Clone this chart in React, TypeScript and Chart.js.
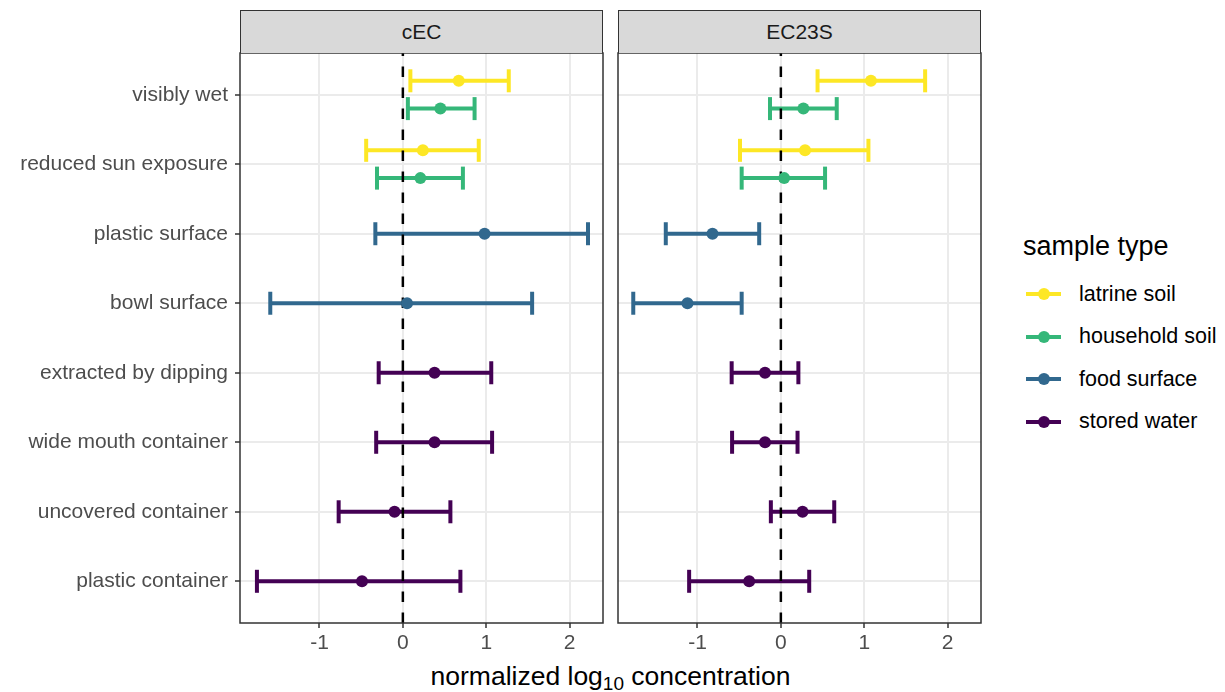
import React, { useEffect, useRef } from 'react';
import { Chart, registerables } from 'chart.js';

Chart.register(...registerables);

// ---------- data ----------
// categories from bottom (1) to top (8)
const categories = [
  'plastic container',
  'uncovered container',
  'wide mouth container',
  'extracted by dipping',
  'bowl surface',
  'plastic surface',
  'reduced sun exposure',
  'visibly wet',
];

const soilCats = ['visibly wet', 'reduced sun exposure'];
const foodCats = ['plastic surface', 'bowl surface'];
const waterCats = ['extracted by dipping', 'wide mouth container', 'uncovered container', 'plastic container'];

const seriesNames = ['latrine soil', 'household soil', 'food surface', 'stored water'];
const seriesColors = ['#FDE725', '#35B779', '#31688E', '#440154'];

const xTicks = [-1, 0, 1, 2];

// cEC panel
const cecLatrineEst = [0.67, 0.24];
const cecLatrineLo = [0.09, -0.44];
const cecLatrineHi = [1.27, 0.91];
const cecHouseholdEst = [0.45, 0.21];
const cecHouseholdLo = [0.06, -0.31];
const cecHouseholdHi = [0.86, 0.72];
const cecFoodEst = [0.98, 0.05];
const cecFoodLo = [-0.33, -1.59];
const cecFoodHi = [2.22, 1.55];
const cecWaterEst = [0.38, 0.38, -0.1, -0.49];
const cecWaterLo = [-0.29, -0.32, -0.77, -1.75];
const cecWaterHi = [1.06, 1.07, 0.57, 0.69];

// EC23S panel
const ecLatrineEst = [1.08, 0.29];
const ecLatrineLo = [0.44, -0.49];
const ecLatrineHi = [1.73, 1.05];
const ecHouseholdEst = [0.27, 0.04];
const ecHouseholdLo = [-0.13, -0.47];
const ecHouseholdHi = [0.67, 0.53];
const ecFoodEst = [-0.82, -1.12];
const ecFoodLo = [-1.38, -1.77];
const ecFoodHi = [-0.26, -0.47];
const ecWaterEst = [-0.19, -0.19, 0.26, -0.38];
const ecWaterLo = [-0.59, -0.585, -0.12, -1.1];
const ecWaterHi = [0.21, 0.2, 0.64, 0.34];

const panelTitles = ['cEC', 'EC23S'];

// ---------- helpers ----------
const FONT = "'Liberation Sans', Arial, Helvetica, sans-serif";
const X_MIN = -1.953;
const X_MAX = 2.4;
const Y_MIN = 0.4;
const Y_MAX = 8.6;
const DODGE = 0.2;

type Series = { cats: string[]; est: number[]; lo: number[]; hi: number[]; color: string; dodge: number };

const catY = (c: string) => categories.indexOf(c) + 1;

function buildDatasets(series: Series[]) {
  const ds: any[] = [];
  series.forEach((s) => {
    s.cats.forEach((c, i) => {
      const y = catY(c) + s.dodge;
      ds.push({
        data: [
          { x: s.lo[i], y },
          { x: s.hi[i], y },
        ],
        showLine: true,
        borderColor: s.color,
        borderWidth: 4,
        pointStyle: 'line',
        pointRadius: 11.5,
        pointHoverRadius: 11.5,
        pointBorderWidth: 4,
        pointBorderColor: s.color,
        pointRotation: 90,
        order: 3,
      });
    });
  });
  ds.push({
    data: [
      { x: 0, y: Y_MIN },
      { x: 0, y: Y_MAX },
    ],
    showLine: true,
    borderColor: '#000000',
    borderWidth: 2.5,
    borderDash: [10.5, 10.5],
    pointRadius: 0,
    order: 2,
  });
  series.forEach((s) => {
    ds.push({
      data: s.cats.map((c, i) => ({ x: s.est[i], y: catY(c) + s.dodge })),
      showLine: false,
      pointRadius: 6,
      pointBackgroundColor: s.color,
      pointBorderColor: s.color,
      pointBorderWidth: 0,
      order: 1,
    });
  });
  return ds;
}

const panelBox = {
  id: 'panelBox',
  afterDraw(chart: any) {
    const { ctx, chartArea } = chart;
    ctx.save();
    ctx.strokeStyle = '#333333';
    ctx.lineWidth = 1.5;
    ctx.strokeRect(chartArea.left, chartArea.top, chartArea.right - chartArea.left, chartArea.bottom - chartArea.top);
    ctx.restore();
  },
};

function makeConfig(series: Series[], showYLabels: boolean, padLeft: number, padRight: number) {
  return {
    type: 'scatter',
    data: { datasets: buildDatasets(series) },
    plugins: [panelBox],
    options: {
      responsive: false,
      animation: false,
      events: [],
      layout: { autoPadding: false, padding: { top: 53, left: padLeft, right: padRight, bottom: 0 } },
      plugins: { legend: { display: false }, tooltip: { enabled: false } },
      scales: {
        x: {
          type: 'linear',
          min: X_MIN,
          max: X_MAX,
          afterFit: (scale: any) => {
            scale.height = 37;
            scale.paddingLeft = 0;
            scale.paddingRight = 0;
          },
          afterBuildTicks: (scale: any) => {
            scale.ticks = xTicks.map((v) => ({ value: v }));
          },
          border: { display: false },
          grid: {
            color: '#EBEBEB',
            lineWidth: 2,
            drawTicks: true,
            tickLength: 5,
            tickColor: '#333333',
            tickWidth: 1.5,
          },
          ticks: {
            includeBounds: false,
            color: '#4D4D4D',
            font: { family: FONT, size: 21 },
            padding: 3,
            maxRotation: 0,
            callback: (v: any) => String(v),
          },
        },
        y: {
          type: 'linear',
          min: Y_MIN,
          max: Y_MAX,
          afterFit: (scale: any) => {
            scale.width = showYLabels ? 240 : 0;
            scale.paddingTop = 0;
            scale.paddingBottom = 0;
          },
          afterBuildTicks: (scale: any) => {
            scale.ticks = categories.map((_, i) => ({ value: i + 1 }));
          },
          border: { display: false },
          grid: {
            color: '#EBEBEB',
            lineWidth: 2,
            drawTicks: showYLabels,
            tickLength: 5,
            tickColor: '#333333',
            tickWidth: 1.5,
          },
          ticks: {
            display: showYLabels,
            includeBounds: false,
            color: '#4D4D4D',
            font: { family: FONT, size: 21 },
            padding: 7,
            callback: (v: any) => categories[Math.round(v) - 1] ?? '',
          },
        },
      },
    },
  };
}

const cecSeries: Series[] = [
  { cats: soilCats, est: cecLatrineEst, lo: cecLatrineLo, hi: cecLatrineHi, color: seriesColors[0], dodge: DODGE },
  { cats: soilCats, est: cecHouseholdEst, lo: cecHouseholdLo, hi: cecHouseholdHi, color: seriesColors[1], dodge: -DODGE },
  { cats: foodCats, est: cecFoodEst, lo: cecFoodLo, hi: cecFoodHi, color: seriesColors[2], dodge: 0 },
  { cats: waterCats, est: cecWaterEst, lo: cecWaterLo, hi: cecWaterHi, color: seriesColors[3], dodge: 0 },
];

const ecSeries: Series[] = [
  { cats: soilCats, est: ecLatrineEst, lo: ecLatrineLo, hi: ecLatrineHi, color: seriesColors[0], dodge: DODGE },
  { cats: soilCats, est: ecHouseholdEst, lo: ecHouseholdLo, hi: ecHouseholdHi, color: seriesColors[1], dodge: -DODGE },
  { cats: foodCats, est: ecFoodEst, lo: ecFoodLo, hi: ecFoodHi, color: seriesColors[2], dodge: 0 },
  { cats: waterCats, est: ecWaterEst, lo: ecWaterLo, hi: ecWaterHi, color: seriesColors[3], dodge: 0 },
];

function Panel({ series, showYLabels, left, width, padLeft, padRight }: any) {
  const ref = useRef<HTMLCanvasElement>(null);
  useEffect(() => {
    if (!ref.current) return;
    const chart = new Chart(ref.current, makeConfig(series, showYLabels, padLeft, padRight) as any);
    return () => chart.destroy();
  }, []);
  return (
    <canvas
      ref={ref}
      width={width}
      height={660}
      style={{ position: 'absolute', left, top: 0, width, height: 660 }}
    />
  );
}

function Strip({ left, width, text }: any) {
  return (
    <div
      style={{
        position: 'absolute',
        left,
        top: 10,
        width,
        height: 43,
        boxSizing: 'border-box',
        background: '#D9D9D9',
        border: '1.5px solid #333333',
        borderBottom: 'none',
        display: 'flex',
        alignItems: 'center',
        justifyContent: 'center',
        fontFamily: FONT,
        fontSize: 21,
        color: '#1A1A1A',
      }}
    >
      {text}
    </div>
  );
}

export default function App() {
  return (
    <div
      style={{
        position: 'fixed',
        left: 0,
        top: 0,
        width: 1225,
        height: 692,
        background: '#FFFFFF',
        overflow: 'hidden',
        fontFamily: FONT,
      }}
    >
      <Panel series={cecSeries} showYLabels={true} left={0} width={613} padLeft={0} padRight={10} />
      <Panel series={ecSeries} showYLabels={false} left={608} width={383} padLeft={10} padRight={10} />
      <Strip left={240} width={363} text={panelTitles[0]} />
      <Strip left={618} width={363} text={panelTitles[1]} />
      <div
        style={{
          position: 'absolute',
          left: 240,
          width: 741,
          top: 661,
          textAlign: 'center',
          fontSize: 26.5,
          color: '#000000',
          lineHeight: '30px',
          whiteSpace: 'nowrap',
        }}
      >
        normalized log<sub style={{ fontSize: 19, verticalAlign: -5, lineHeight: 0 }}>10</sub> concentration
      </div>
      <div style={{ position: 'absolute', left: 1023, top: 231, fontSize: 27, color: '#000000', lineHeight: '30px' }}>
        sample type
      </div>
      {seriesNames.map((name, i) => (
        <div
          key={name}
          style={{ position: 'absolute', left: 1026, top: 294 + i * 42.6 - 15, height: 30, display: 'flex', alignItems: 'center' }}
        >
          <div style={{ position: 'relative', width: 35, height: 30 }}>
            <div style={{ position: 'absolute', left: 0, top: 13, width: 35, height: 4, background: seriesColors[i] }} />
            <div
              style={{ position: 'absolute', left: 11.5, top: 9, width: 12, height: 12, borderRadius: 6, background: seriesColors[i] }}
            />
          </div>
          <div style={{ marginLeft: 18, fontSize: 21.5, color: '#000000', whiteSpace: 'nowrap' }}>{name}</div>
        </div>
      ))}
    </div>
  );
}
